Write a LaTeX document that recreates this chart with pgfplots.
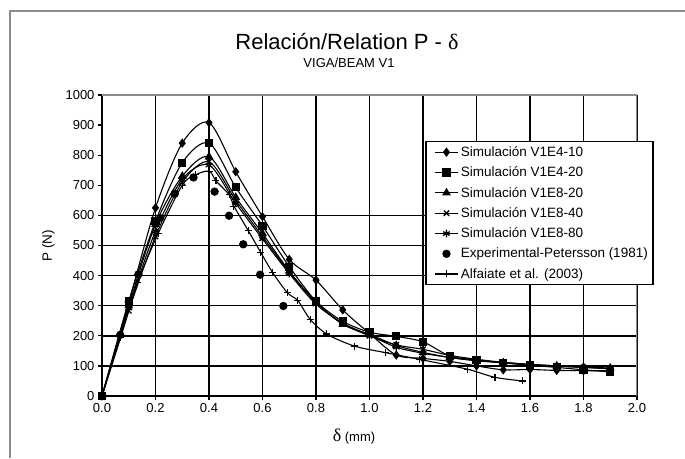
\documentclass[border=0pt]{standalone}
\usepackage{fontspec}
\setmainfont{Liberation Sans}
\newfontfamily\seriffont{Liberation Serif}
\usepackage{pgfplots}
\pgfplotsset{compat=1.18}
\begin{document}
\begin{tikzpicture}
\path[use as bounding box] (0pt,0pt) rectangle (685pt,458pt);
\draw[black!45, line width=1.2pt] (10pt,0pt) -- (10pt,447pt) -- (685pt,447pt);
\node[font=\fontsize{22}{25}\selectfont, anchor=base] at (347pt,408pt) {Relación/Relation P - {\seriffont δ}};
\node[font=\fontsize{13}{15}\selectfont, anchor=base] at (349pt,390pt) {VIGA/BEAM V1};
\begin{axis}[
  at={(102pt,62pt)}, anchor=south west, scale only axis,
  width=535pt, height=301pt,
  xmin=0, xmax=2, ymin=0, ymax=1000,
  xtick={0,0.2,...,2.0}, ytick={0,100,...,1000},
  axis x line*=bottom, axis y line*=left,
  axis line style={line width=1.6pt, black},
  tick align=outside, major tick length=4pt,
  tick style={line width=1.2pt, black},
  xmajorgrids, major grid style={line width=1.6pt, black},
  /pgf/number format/assume math mode=true,
  /pgf/number format/1000 sep={},
  xticklabel style={/pgf/number format/.cd, fixed, fixed zerofill, precision=1},
  tick label style={font=\fontsize{13}{15}\selectfont},
  ylabel={P (N)},
  ylabel style={font=\fontsize{13.5}{15}\selectfont, at={(axis description cs:-0.10,0.5)}, anchor=center},
  xlabel={{\seriffont\fontsize{18}{19}\selectfont δ} (mm)},
  xlabel style={font=\fontsize{13}{15}\selectfont, at={(axis description cs:0.471,-0.135)}, anchor=center},
  legend style={at={(0.604,0.848)}, anchor=north west, draw=black, line width=1.4pt, fill=white,
     font=\fontsize{13.5}{15}\selectfont, row sep=4.9pt, inner sep=3pt},
  legend cell align=left,
  legend image code/.code={\path (0cm,0cm); \draw[mark repeat=2,mark phase=2] plot coordinates {(0.18cm,0cm) (0.6cm,0cm) (1.02cm,0cm)};},
  every axis plot/.append style={black, line width=1.1pt},
]
\pgfplotsinvokeforeach{100,200,300,400,500,600}{
  \draw[line width=1.6pt, black] (axis cs:0,#1) -- (axis cs:2,#1);
}
\addplot[smooth, mark=diamond*, mark size=3.8pt, mark options={fill=black, solid}] coordinates {
(0,0) (0.1,310) (0.2,625) (0.3,840) (0.4,908) (0.5,745) (0.6,596) (0.7,454) (0.8,385) (0.9,286)
(1.0,208) (1.1,136) (1.2,125) (1.3,115) (1.4,100) (1.5,87) (1.6,88) (1.7,85) (1.8,84) (1.9,84)};
\addlegendentry{Simulación V1E4-10}
\addplot[smooth, mark=square*, mark size=3.5pt, mark options={fill=black, solid}] coordinates {
(0,0) (0.1,315) (0.2,580) (0.3,775) (0.4,840) (0.5,693) (0.6,565) (0.7,430) (0.8,315) (0.9,248)
(1.0,212) (1.1,198) (1.2,180) (1.3,133) (1.4,120) (1.5,110) (1.6,102) (1.7,95) (1.8,87) (1.9,80)};
\addlegendentry{Simulación V1E4-20}
\addplot[smooth, mark=triangle*, mark size=4pt, mark options={fill=black, solid}] coordinates {
(0,0) (0.1,300) (0.2,570) (0.3,730) (0.4,795) (0.5,660) (0.6,540) (0.7,415) (0.8,312) (0.9,238)
(1.0,205) (1.1,168) (1.2,145) (1.3,128) (1.4,117) (1.5,110) (1.6,105) (1.7,100) (1.8,96) (1.9,93)};
\addlegendentry{Simulación V1E8-20}
\addplot[smooth, mark=x, mark size=3.8pt, mark options={solid, line width=1.3pt}] coordinates {
(0,0) (0.1,283) (0.2,530) (0.3,710) (0.4,778) (0.5,650) (0.6,530) (0.7,412) (0.8,310) (0.9,240)
(1.0,200) (1.1,170) (1.2,155) (1.3,135) (1.4,122) (1.5,112) (1.6,105) (1.7,100) (1.8,95) (1.9,92)};
\addlegendentry{Simulación V1E8-40}
\addplot[smooth, mark=asterisk, mark size=3.8pt, mark options={solid, line width=1.3pt}] coordinates {
(0,0) (0.1,292) (0.2,548) (0.3,720) (0.4,767) (0.5,640) (0.6,522) (0.7,407) (0.8,305) (0.9,242)
(1.0,202) (1.1,162) (1.2,142) (1.3,128) (1.4,118) (1.5,112) (1.6,104) (1.7,99) (1.8,95) (1.9,90)};
\addlegendentry{Simulación V1E8-80}
\addplot[only marks, mark=*, mark size=3.6pt, mark options={fill=black}] coordinates {
(0,0) (0.068,203) (0.10,312) (0.136,404) (0.217,591) (0.272,672) (0.342,726) (0.421,679) (0.475,599)
(0.528,504) (0.591,403) (0.678,299)};
\addlegendentry{Experimental-Petersson (1981)}
\addplot[smooth, mark=+, mark size=3.5pt, mark options={solid, line width=1.1pt}] coordinates {
(0,0) (0.07,195) (0.134,378) (0.21,540) (0.3,700) (0.35,735) (0.401,747) (0.426,715) (0.476,668)
(0.493,631) (0.547,549) (0.594,476) (0.638,410) (0.693,343) (0.732,317) (0.778,255) (0.84,206)
(0.943,166) (1.06,144) (1.186,122) (1.366,89) (1.469,62) (1.573,50)};
\addlegendentry{Alfaiate et al. (2003)}
\draw[black!45, line width=1.5pt] (axis cs:0,1000) -- (axis cs:2,1000) -- (axis cs:2,0);
\end{axis}
\end{tikzpicture}
\end{document}
